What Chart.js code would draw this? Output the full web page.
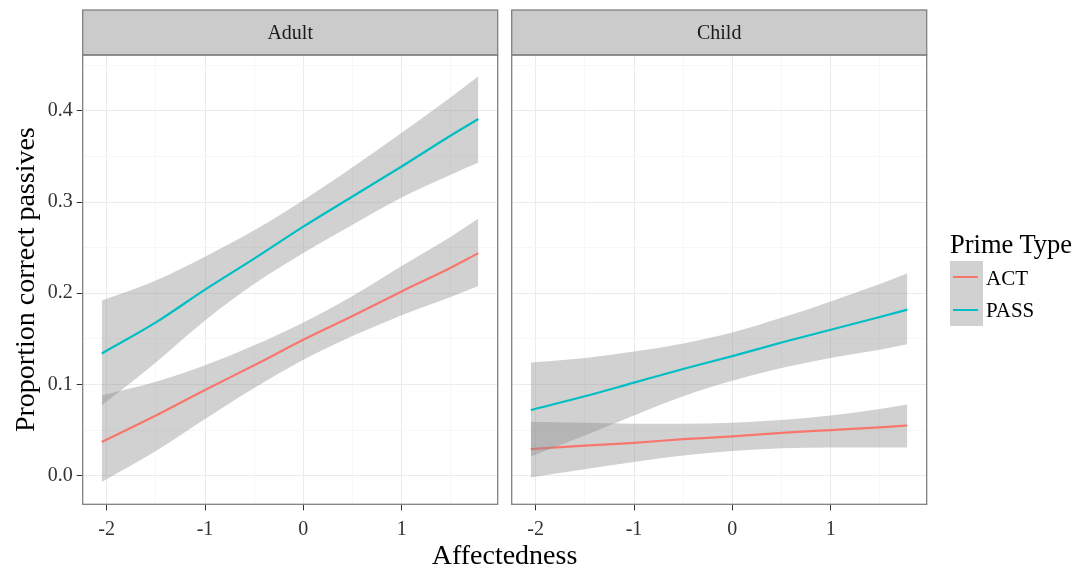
<!DOCTYPE html>
<html>
<head>
<meta charset="utf-8">
<script src="https://cdn.jsdelivr.net/npm/chart.js@4/dist/chart.umd.min.js"></script>
<style>
  html, body { margin: 0; padding: 0; background: #fff; }
  #wrap { position: relative; width: 1081px; height: 570px; overflow: hidden;
          font-family: 'Liberation Serif', 'Times New Roman', serif; color: #000; }
  canvas { position: absolute; top: 0; }
  #xTitle { position: absolute; left: 0; width: 1009px; top: 539px; text-align: center; font-size: 28px; }
  #legend { position: absolute; left: 950px; top: 229px; }
  #legend .title { font-size: 26.5px; line-height: 30px; margin-bottom: 2px; }
  #legend .row { display: flex; align-items: center; height: 32.5px; }
  #legend .key { width: 33px; height: 32.5px; background: #d1d1d1; position: relative; }
  #legend .key span { position: absolute; left: 3px; right: 5px; top: 15px; height: 2px; }
  #legend .lab { font-size: 21px; margin-left: 3px; padding-top: 2px; }
</style>
</head>
<body>
<div id="wrap">
  <canvas id="adultChart" width="505" height="570" style="left:0;width:505px;height:570px"></canvas>
  <canvas id="childChart" width="576" height="570" style="left:505px;width:576px;height:570px"></canvas>
  <div id="xTitle">Affectedness</div>
  <div id="legend">
    <div class="title">Prime Type</div>
    <div class="row"><div class="key"><span style="background:#F8766D"></span></div><div class="lab">ACT</div></div>
    <div class="row"><div class="key"><span style="background:#00BFC4"></span></div><div class="lab">PASS</div></div>
  </div>
</div>
<script>
// affectedness values where the fitted curves are sampled
const affect = [-2.05, -1.5, -1, -0.5, 0, 0.5, 1, 1.5, 1.78];

// Adult panel: fit and confidence band for each prime type
const adultActFit   = [0.037, 0.066, 0.094, 0.121, 0.149, 0.175, 0.202, 0.228, 0.244];
const adultActHi    = [0.088, 0.103, 0.121, 0.143, 0.168, 0.197, 0.230, 0.262, 0.282];
const adultActLo    = [-0.007, 0.027, 0.062, 0.096, 0.127, 0.153, 0.176, 0.196, 0.208];
const adultPassFit  = [0.134, 0.168, 0.204, 0.238, 0.273, 0.306, 0.339, 0.373, 0.391];
const adultPassHi   = [0.192, 0.214, 0.240, 0.269, 0.302, 0.338, 0.376, 0.415, 0.438];
const adultPassLo   = [0.077, 0.124, 0.170, 0.210, 0.244, 0.275, 0.305, 0.330, 0.343];

// Child panel
const childActFit   = [0.029, 0.033, 0.036, 0.040, 0.043, 0.047, 0.050, 0.053, 0.055];
const childActHi    = [0.059, 0.058, 0.057, 0.057, 0.058, 0.061, 0.066, 0.073, 0.078];
const childActLo    = [-0.002, 0.007, 0.015, 0.022, 0.027, 0.030, 0.031, 0.031, 0.031];
const childPassFit  = [0.072, 0.087, 0.102, 0.117, 0.131, 0.146, 0.160, 0.174, 0.182];
const childPassHi   = [0.124, 0.129, 0.136, 0.145, 0.157, 0.173, 0.191, 0.210, 0.222];
const childPassLo   = [0.021, 0.044, 0.066, 0.087, 0.104, 0.118, 0.129, 0.138, 0.144];

// axis breaks (major + minor)
const xBreaks = [-2, -1.5, -1, -0.5, 0, 0.5, 1, 1.5];
const yBreaks = [0, 0.05, 0.1, 0.15, 0.2, 0.25, 0.3, 0.35, 0.4, 0.45];

const ACT_COL = '#F8766D';
const PASS_COL = '#00BFC4';
const BAND = 'rgba(140,140,140,0.4)';

Chart.defaults.font.family = "'Liberation Serif', 'Times New Roman', serif";
Chart.defaults.color = '#333';

const pts = ys => ys.map((y, i) => ({ x: affect[i], y: y }));
const isMajorX = v => Math.abs(v - Math.round(v)) < 1e-9;
const isMajorY = v => Math.abs(v * 10 - Math.round(v * 10)) < 1e-9;

function smoothSets(act, actHi, actLo, pass, passHi, passLo) {
  const band = (d, order) => ({ data: pts(d), borderWidth: 0, pointRadius: 0, fill: '+1',
    backgroundColor: BAND, cubicInterpolationMode: 'monotone', order: order });
  const edge = (d, order) => ({ data: pts(d), borderWidth: 0, pointRadius: 0, fill: false,
    cubicInterpolationMode: 'monotone', order: order });
  const fit = (d, col, order) => ({ data: pts(d), borderColor: col, borderWidth: 2.2, pointRadius: 0,
    fill: false, cubicInterpolationMode: 'monotone', order: order });
  // higher order is drawn first: ACT ribbon+line, then PASS ribbon+line
  return [
    band(actHi, 6), edge(actLo, 5), fit(act, ACT_COL, 4),
    band(passHi, 3), edge(passLo, 2), fit(pass, PASS_COL, 1)
  ];
}

// strip label on top and grey frame round the panel
const facetPanel = {
  id: 'facetPanel',
  afterDraw(chart, args, opts) {
    const { ctx, chartArea: a } = chart;
    ctx.save();
    ctx.fillStyle = '#cbcbcb';
    ctx.fillRect(a.left, 10, a.right - a.left, a.top - 10);
    ctx.strokeStyle = '#808080';
    ctx.lineWidth = 1.3;
    ctx.strokeRect(a.left, 10, a.right - a.left, a.top - 10);
    ctx.strokeRect(a.left, a.top, a.right - a.left, a.bottom - a.top);
    ctx.fillStyle = '#1a1a1a';
    ctx.font = "20px 'Liberation Serif', 'Times New Roman', serif";
    ctx.textAlign = 'center';
    ctx.textBaseline = 'middle';
    ctx.fillText(opts.label, (a.left + a.right) / 2, (10 + a.top) / 2 + 1);
    ctx.restore();
  }
};

function makePanel(id, label, sets, showY, yWidth, rightPad) {
  return new Chart(document.getElementById(id), {
    type: 'line',
    data: { datasets: sets },
    plugins: [facetPanel],
    options: {
      responsive: false,
      animation: false,
      layout: { padding: { top: 55, right: rightPad, bottom: 0, left: 0 } },
      plugins: { legend: { display: false }, tooltip: { enabled: false }, facetPanel: { label: label } },
      scales: {
        x: {
          type: 'linear', min: -2.244, max: 1.977,
          afterBuildTicks: s => { s.ticks = xBreaks.map(v => ({ value: v })); },
          afterFit: s => { s.height = 65.7; },
          border: { display: false },
          grid: {
            color: c => isMajorX(c.tick.value) ? '#ebebeb' : '#f7f7f7',
            tickColor: c => isMajorX(c.tick.value) ? '#333' : 'rgba(0,0,0,0)',
            tickLength: 6, lineWidth: 1
          },
          ticks: {
            autoSkip: false, maxRotation: 0, padding: 7,
            font: { size: 20 }, color: '#333',
            callback: v => isMajorX(v) ? String(Math.round(v)) : ''
          }
        },
        y: {
          type: 'linear', min: -0.0314, max: 0.4612,
          afterBuildTicks: s => { s.ticks = yBreaks.map(v => ({ value: v })); },
          afterFit: s => { s.width = yWidth; },
          border: { display: false },
          grid: {
            color: c => isMajorY(c.tick.value) ? '#ebebeb' : '#f7f7f7',
            tickColor: c => showY && isMajorY(c.tick.value) ? '#333' : 'rgba(0,0,0,0)',
            tickLength: 6, drawTicks: showY, lineWidth: 1
          },
          ticks: {
            display: showY, autoSkip: false, padding: 4,
            font: { size: 20 }, color: '#333',
            callback: v => isMajorY(v) ? v.toFixed(1) : ''
          },
          title: {
            display: showY, text: 'Proportion correct passives',
            color: '#000', font: { size: 28 }, padding: { top: 10, bottom: 0 }
          }
        }
      }
    }
  });
}

makePanel('adultChart', 'Adult',
  smoothSets(adultActFit, adultActHi, adultActLo, adultPassFit, adultPassHi, adultPassLo),
  true, 82.7, 505 - 497.7);
makePanel('childChart', 'Child',
  smoothSets(childActFit, childActHi, childActLo, childPassFit, childPassHi, childPassLo),
  false, 6.7, 576 - 421.7);
</script>
</body>
</html>
